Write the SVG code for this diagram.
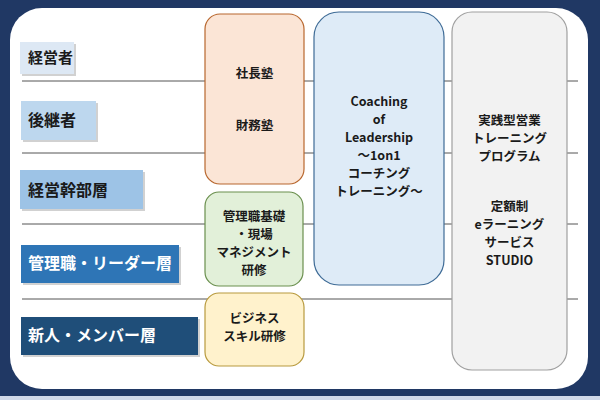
<svg xmlns="http://www.w3.org/2000/svg" width="600" height="400" viewBox="0 0 600 400">
<defs>
<style>
.lbl{font-family:"Noto Sans CJK JP","Noto Sans",sans-serif;font-weight:bold;font-size:16px}
.col{font-family:"Noto Sans CJK JP","Noto Sans",sans-serif;font-weight:bold;font-size:12.5px;fill:#1a1a1a;text-anchor:middle}
.sh{fill:#000;opacity:0.18}
.ln{stroke:#555;stroke-width:1;fill:none}
</style>
</defs>
<rect x="0" y="0" width="600" height="400" fill="#203864"/>
<rect x="0" y="396" width="600" height="4" fill="#d0d8e8"/>
<rect x="10" y="8" width="578" height="381" rx="32" ry="32" fill="#ffffff"/>

<g id="connectors">
<line class="ln" x1="22" y1="81" x2="578" y2="81"/>
<line class="ln" x1="22" y1="153" x2="578" y2="153"/>
<line class="ln" x1="22" y1="224" x2="578" y2="224"/>
<line class="ln" x1="22" y1="299" x2="578" y2="299"/>
</g>

<g id="keieisha">
<rect class="sh" x="22" y="44" width="54" height="32"/>
<rect x="20" y="42" width="54" height="32" fill="#dde8f4"/>
<text class="lbl" x="28" y="63" fill="#1a1a1a" style="font-size:15px">経営者</text>
</g>
<g id="koukeisha">
<rect class="sh" x="23" y="103" width="75" height="39"/>
<rect x="21" y="101" width="75" height="39" fill="#bdd7ee"/>
<text class="lbl" x="28" y="126" fill="#1a1a1a">後継者</text>
</g>
<g id="kanbu">
<rect class="sh" x="22" y="172" width="123" height="39"/>
<rect x="20" y="170" width="123" height="39" fill="#9dc3e6"/>
<text class="lbl" x="28" y="196" fill="#1a1a1a">経営幹部層</text>
</g>
<g id="kanrishoku">
<rect class="sh" x="23" y="247" width="158" height="38"/>
<rect x="21" y="245" width="158" height="38" fill="#2e75b6"/>
<text class="lbl" x="28" y="269" fill="#ffffff">管理職・リーダー層</text>
</g>
<g id="shinjin">
<rect class="sh" x="23" y="319" width="177" height="38"/>
<rect x="21" y="317" width="177" height="38" fill="#1f4e79"/>
<text class="lbl" x="28" y="341" fill="#ffffff">新人・メンバー層</text>
</g>

<g id="shachojuku">
<rect x="205" y="14" width="99" height="170" rx="15" ry="15" fill="#fbe5d6" stroke="#b8672e" stroke-width="1.2"/>
<text class="col" x="254.5" y="77.5">社長塾</text>
<text class="col" x="254.5" y="129.5">財務塾</text>
</g>
<g id="kanrikiso">
<rect x="205" y="192" width="98" height="94" rx="14" ry="14" fill="#e2f0d9" stroke="#6a8f4e" stroke-width="1.2"/>
<text class="col" x="254" y="221.4">管理職基礎</text>
<text class="col" x="254" y="239.4">・現場</text>
<text class="col" x="254" y="257.4">マネジメント</text>
<text class="col" x="254" y="275.4">研修</text>
</g>
<g id="business">
<rect x="205" y="293" width="99" height="73" rx="14" ry="14" fill="#fff2cc" stroke="#b89a3e" stroke-width="1.2"/>
<text class="col" x="254.5" y="323.4">ビジネス</text>
<text class="col" x="254.5" y="341.4">スキル研修</text>
</g>
<g id="coaching">
<rect x="314" y="12" width="130" height="273" rx="25" ry="25" fill="#deebf7" stroke="#3e6b96" stroke-width="1.2"/>
<text class="col" x="379" y="106.4">Coaching</text>
<text class="col" x="379" y="124.4">of</text>
<text class="col" x="379" y="142.4">Leadership</text>
<text class="col" x="379" y="160.4">～1on1</text>
<text class="col" x="379" y="178.4">コーチング</text>
<text class="col" x="379" y="196.4">トレーニング～</text>
</g>
<g id="eigyo">
<rect x="452" y="12" width="115" height="358" rx="20" ry="20" fill="#f2f2f2" stroke="#a0a0a0" stroke-width="1.2"/>
<text class="col" x="509.5" y="125.4">実践型営業</text>
<text class="col" x="509.5" y="143.4">トレーニング</text>
<text class="col" x="509.5" y="161.4">プログラム</text>
<text class="col" x="509.5" y="211.4">定額制</text>
<text class="col" x="509.5" y="229.4">eラーニング</text>
<text class="col" x="509.5" y="247.4">サービス</text>
<text class="col" x="509.5" y="265.4">STUDIO</text>
</g>
</svg>
